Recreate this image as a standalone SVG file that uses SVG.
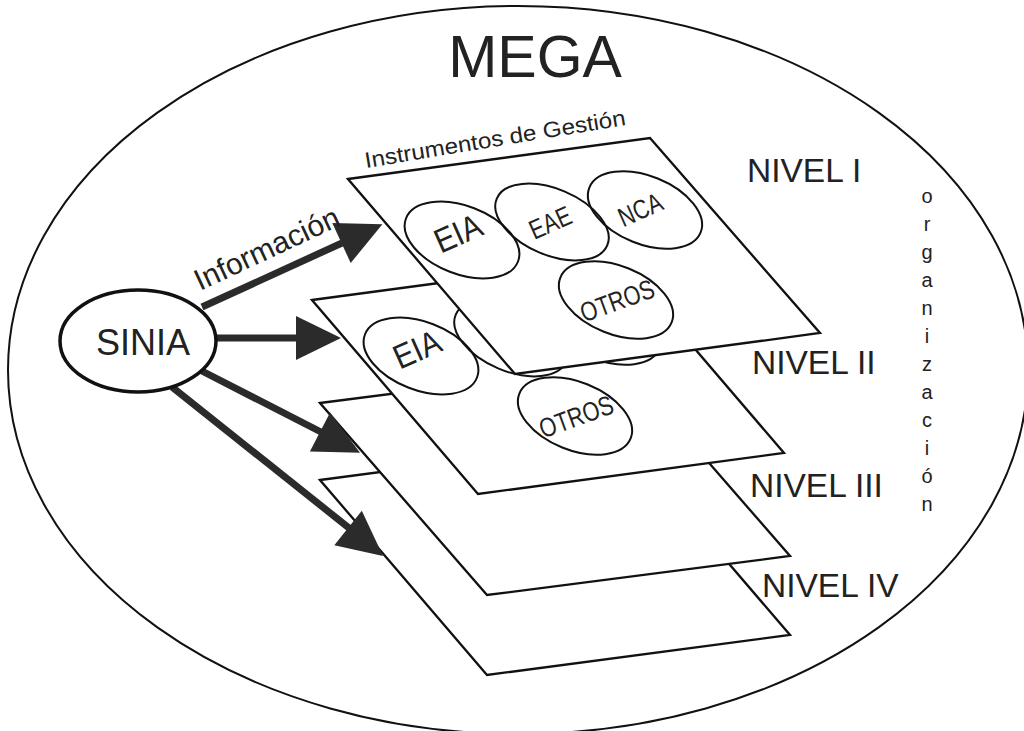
<svg xmlns="http://www.w3.org/2000/svg" width="1024" height="731" viewBox="0 0 1024 731">
<style>
text{font-family:"Liberation Sans",Arial,sans-serif;fill:#222}
.plane{fill:#fff;stroke:#111;stroke-width:2.3;stroke-linejoin:miter}
.inst{fill:none;stroke:#111;stroke-width:2}
.arr{stroke:#2b2b2b;stroke-width:7;fill:none}
.head{fill:#2b2b2b;stroke:none}
.lvl{font-size:33.5px}
</style>
<rect width="1024" height="731" fill="#fff"/>
<g id="mega">
<ellipse cx="518" cy="370" rx="510" ry="364" fill="#fff" stroke="#111" stroke-width="2"/>
<text x="535" y="77" font-size="59" text-anchor="middle">MEGA</text>
</g>
<g id="nivel4">
<polygon class="plane" points="320,480 623,440 790,635 487,675"/>
</g>
<g id="nivel3">
<polygon class="plane" points="320,403 623,364 790,556 487,595"/>
</g>
<g id="nivel2">
<polygon class="plane" points="312,300 618,259 784,453 478,494"/>
<g transform="translate(-41,116)">
<ellipse class="inst" cx="462" cy="240" rx="60" ry="34" transform="rotate(21 462 240)"/>
<ellipse class="inst" cx="552" cy="222" rx="60" ry="33" transform="rotate(23 552 222)"/>
<ellipse class="inst" cx="645" cy="210" rx="60" ry="34" transform="rotate(22 645 210)"/>
<ellipse class="inst" cx="616" cy="300" rx="60" ry="34" transform="rotate(22 616 300)"/>
<text transform="translate(458,233) rotate(-24) scale(0.88,1)" y="12" font-size="34" text-anchor="middle">EIA</text>
<text transform="translate(617,300) rotate(-20) scale(0.8,1)" y="10" font-size="27" text-anchor="middle">OTROS</text>
</g>
</g>
<g id="nivel1">
<polygon class="plane" points="348,179 650,138 820,333 515,374"/>
<ellipse class="inst" cx="462" cy="240" rx="60" ry="34" transform="rotate(21 462 240)"/>
<ellipse class="inst" cx="552" cy="222" rx="60" ry="33" transform="rotate(23 552 222)"/>
<ellipse class="inst" cx="645" cy="210" rx="60" ry="34" transform="rotate(22 645 210)"/>
<ellipse class="inst" cx="616" cy="300" rx="60" ry="34" transform="rotate(22 616 300)"/>
<text transform="translate(458,233) rotate(-24) scale(0.88,1)" y="12" font-size="34" text-anchor="middle">EIA</text>
<text transform="translate(550,222) rotate(-24) scale(0.8,1)" y="10" font-size="27" text-anchor="middle">EAE</text>
<text transform="translate(640,209) rotate(-24) scale(0.8,1)" y="10" font-size="27" text-anchor="middle">NCA</text>
<text transform="translate(617,300) rotate(-20) scale(0.8,1)" y="10" font-size="27" text-anchor="middle">OTROS</text>
<text transform="translate(366,168) rotate(-9.4)" font-size="22" textLength="264" lengthAdjust="spacingAndGlyphs">Instrumentos de Gestión</text>
</g>
<g id="connectors">
<line class="arr" x1="202" y1="307" x2="342" y2="243"/>
<polygon class="head" points="332.3,223 382.4,224.2 350.7,263"/>
<line class="arr" x1="215" y1="338" x2="298" y2="338"/>
<polygon class="head" points="296,316 341,338 296,360"/>
<line class="arr" x1="200" y1="370" x2="321" y2="432"/>
<polygon class="head" points="330.1,412.4 360,452.7 309.9,451.6"/>
<line class="arr" x1="172" y1="387" x2="349" y2="528"/>
<polygon class="head" points="361.8,510.8 383,556 334.3,545.2"/>
<text transform="translate(200,291) rotate(-25)" font-size="30">Información</text>
</g>
<g id="sinia">
<ellipse cx="138" cy="341" rx="78" ry="51" fill="#fff" stroke="#111" stroke-width="3.5"/>
<text x="143" y="355" font-size="36" text-anchor="middle">SINIA</text>
</g>
<g id="labels">
<text class="lvl" x="747" y="182">NIVEL I</text>
<text class="lvl" x="752" y="374">NIVEL II</text>
<text class="lvl" x="750" y="497">NIVEL III</text>
<text class="lvl" x="762" y="597">NIVEL IV</text>
<text x="927" y="203" font-size="20" text-anchor="middle" fill="#333"><tspan x="927">o</tspan><tspan x="927" dy="28.04">r</tspan><tspan x="927" dy="28.04">g</tspan><tspan x="927" dy="28.04">a</tspan><tspan x="927" dy="28.04">n</tspan><tspan x="927" dy="28.04">i</tspan><tspan x="927" dy="28.04">z</tspan><tspan x="927" dy="28.04">a</tspan><tspan x="927" dy="28.04">c</tspan><tspan x="927" dy="28.04">i</tspan><tspan x="927" dy="28.04">ó</tspan><tspan x="927" dy="28.04">n</tspan></text>
</g>
</svg>
